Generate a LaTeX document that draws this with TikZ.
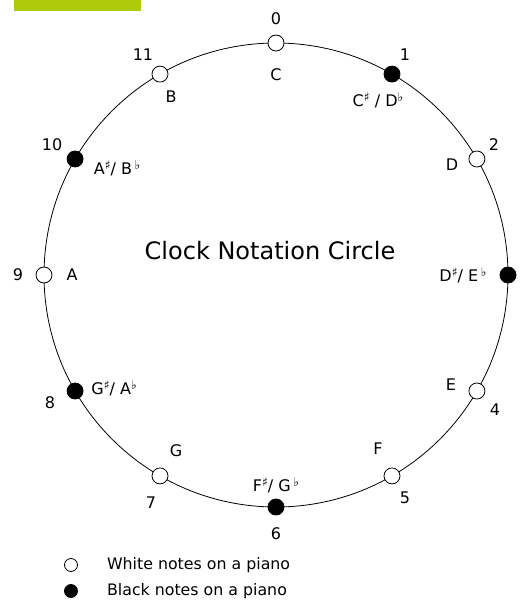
\documentclass[tikz,border=0pt]{standalone}
\usepackage{fontspec}
\setmainfont{DejaVu Sans}
\usepackage{tikz}
\usetikzlibrary{positioning}
\definecolor{figgreen}{HTML}{AFC90B}
\definecolor{bk100}{HTML}{000000}
\newcommand{\shp}{\raisebox{0.55ex}{\fontsize{12}{12}\selectfont ♯}}
\newcommand{\flt}{\raisebox{0.55ex}{\fontsize{12}{12}\selectfont ♭}}
\tikzset{
  whitekey/.style={
    circle, draw=bk100, fill=white, line width=0.8pt,
    minimum size=16pt, inner sep=0pt
  },
  blackkey/.style={whitekey, fill=bk100},
  numlabel/.style={
    on grid, font=\fontsize{16}{19}\selectfont, inner sep=0pt
  },
  notelabel/.style={numlabel},
  titlelabel/.style={font=\fontsize{24}{28}\selectfont, inner sep=0pt},
  legendtext/.style={font=\fontsize{15.8}{18}\selectfont, inner sep=0pt},
}

\begin{document}
\begin{tikzpicture}[x=1pt, y=1pt]
\useasboundingbox (-276,-333) rectangle (247,275);

% Figure tab (cut off at the top)
\fill[figgreen] (-262,264.3) rectangle (-135,280);

% The clock circle
\coordinate (ctr) at (0,0);
\draw[line width=0.8pt] (ctr) circle (232);

\node[titlelabel] (title) at (-6,24) {Clock Notation Circle};

% Twelve pitch classes
\node[whitekey] (n0)  at (90:232) {};
\node[blackkey] (n1)  at (60:232) {};
\node[whitekey] (n2)  at (30:232) {};
\node[blackkey] (n3)  at (0:232) {};
\node[whitekey] (n4)  at (-30:232) {};
\node[whitekey] (n5)  at (-60:232) {};
\node[blackkey] (n6)  at (-90:232) {};
\node[whitekey] (n7)  at (-120:232) {};
\node[blackkey] (n8)  at (-150:232) {};
\node[whitekey] (n9)  at (180:232) {};
\node[blackkey] (n10) at (150:232) {};
\node[whitekey] (n11) at (120:232) {};

% Numbers (outside)
\node[numlabel, above=24pt of n0] (num0) {0};
\node[numlabel, above right=19pt and 13pt of n1] (num1) {1};
\node[numlabel, above right=14pt and 17pt of n2] (num2) {2};
\node[numlabel, below right=19pt and 18pt of n4] (num4) {4};
\node[numlabel, below right=22pt and 13pt of n5] (num5) {5};
\node[numlabel, below=27pt of n6] (num6) {6};
\node[numlabel, below left=27pt and 9pt of n7] (num7) {7};
\node[numlabel, below left=12pt and 25pt of n8] (num8) {8};
\node[numlabel, left=26pt of n9] (num9) {9};
\node[numlabel, above left=14pt and 23pt of n10] (num10) {10};
\node[numlabel, above left=19pt and 17pt of n11] (num11) {11};

% Note names (inside)
\node[notelabel, below=32pt of n0] (note0) {C};
\node[notelabel, below left=26pt and 14pt of n1] (note1) {C\shp{} / D\flt};
\node[notelabel, below left=6pt and 25pt of n2] (note2) {D};
\node[notelabel, left=45pt of n3] (note3) {D\shp/ E\,\flt};
\node[notelabel, above left=6pt and 26pt of n4] (note4) {E};
\node[notelabel, above left=27pt and 14pt of n5] (note5) {F};
\node[notelabel, above=22pt of n6] (note6) {F\shp/ G\,\flt};
\node[notelabel, above right=25pt and 16pt of n7] (note7) {G};
\node[notelabel, above right=3pt and 39pt of n8] (note8) {G\shp/ A\flt};
\node[notelabel, right=28pt of n9] (note9) {A};
\node[notelabel, below right=9pt and 42pt of n10] (note10) {A\shp/ B\,\flt};
\node[notelabel, below right=23pt and 11pt of n11] (note11) {B};

% Legend
\node[whitekey, minimum size=13pt] (legw) at (-205,-290) {};
\node[blackkey, minimum size=13pt] (legb) at (-205,-316) {};
\node[legendtext, right=29pt of legw] (legwtext) {White notes on a piano};
\node[legendtext, right=29pt of legb] (legbtext) {Black notes on a piano};

\end{tikzpicture}
\end{document}
